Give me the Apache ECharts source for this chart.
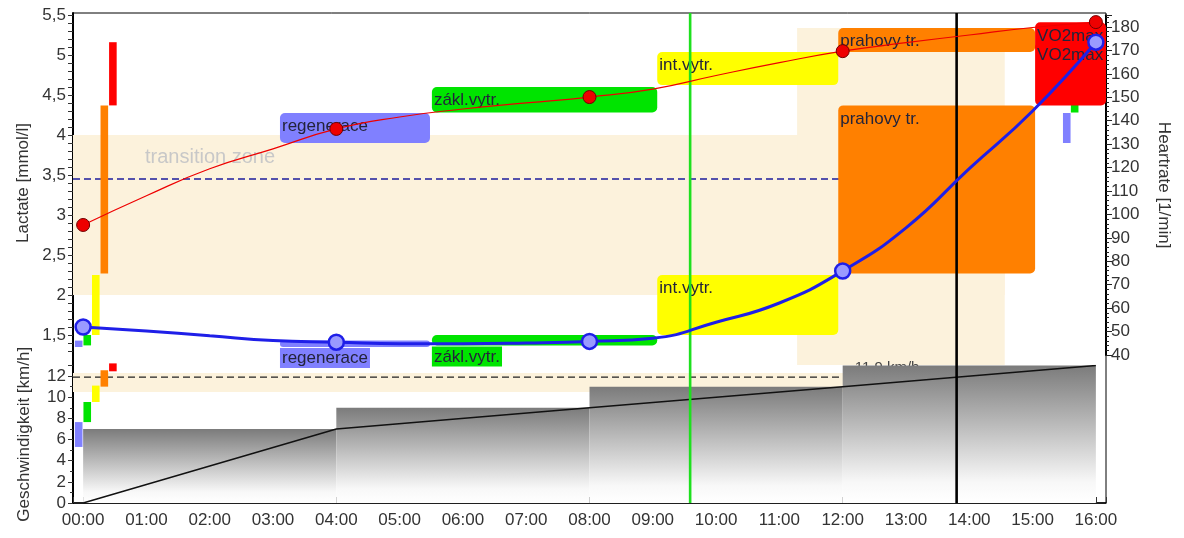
<!DOCTYPE html>
<html>
<head>
<meta charset="utf-8">
<script src="https://cdn.jsdelivr.net/npm/echarts@6/dist/echarts.min.js"></script>
<style>
html, body { margin: 0; padding: 0; background: #fff; }
#chart { width: 1184px; height: 538px; }
</style>
</head>
<body>
<div id="chart"></div>
<script>
// measured stages
var stageTimes = [0, 4, 8, 12, 16];
var hrMeasured = [95.5, 136.5, 150.1, 169.7, 182.1];
var lactateMeasured = [1.6, 1.41, 1.42, 2.3, 5.16];
var stageSpeeds = [7, 9, 11, 13];
var speedRamp = [0, 7, 9, 11, 13];

// fitted curves, every minute
var curveTimes = [0, 1, 2, 3, 4, 5, 6, 7, 8, 9, 10, 11, 12, 13, 14, 15, 16];
var hrCurve = [95.5, 108, 119.5, 128, 136.5, 141.6, 145, 147.6, 150.1, 153.5, 159.3, 164.8, 169.7, 173.3, 176.6, 179.8, 182.1];
var lactateCurve = [1.6, 1.55, 1.49, 1.43, 1.41, 1.39, 1.39, 1.4, 1.42, 1.46, 1.66, 1.9, 2.3, 2.84, 3.58, 4.3, 5.16];

// training zones
var zoneNames = ['regenerace', 'zákl.vytr.', 'int.vytr.', 'prahovy tr.', 'VO2max'];
var zoneColors = ['#8080ff', '#00e400', '#ffff00', '#ff8000', '#ff0000'];
var zoneStart = [3.11, 5.51, 9.07, 11.93, 15.04];
var zoneEnd = [5.48, 9.07, 11.93, 15.04, 16.3];
var hrZoneLow = [130.5, 143.5, 155.2, 169.3, 169.3];
var hrZoneHigh = [143.3, 154.4, 169.3, 179.6, 182];
var lactateZoneLow = [1.35, 1.37, 1.5, 2.27, 4.37];
var lactateZoneHigh = [1.43, 1.5, 2.25, 4.37, 5.16];
var speedZoneLow = [5.3, 7.65, 9.55, 11.0, 12.45];
var speedZoneHigh = [7.65, 9.55, 11.1, 12.55, 13.2];

// transition zone and thresholds
var transitionLactate = [2, 4];
var transitionSpeed = [10.5, 12.3];
var transitionTime = [11.28, 14.56];
var transitionHr = [35.7, 179.6];
var lactateThreshold = 3.45;
var speedThreshold = 11.9;
var speedThresholdLabel = '11,9 km/h';
var thresholdTime = 13.8;
var markerTime = 9.59;

var X_MIN = -0.16, X_MAX = 16.16;
var FONT = '"Liberation Sans", Arial, sans-serif';
var BEIGE = '#fcf2dc';

var chart = echarts.init(document.getElementById('chart'));

function zip(a, b) {
    return a.map(function (v, i) { return [v, b[i]]; });
}

function spanX(cs, a, b) {
    var x0 = Math.max(a, cs.x), x1 = Math.min(b, cs.x + cs.width);
    return [x0, Math.max(0, x1 - x0)];
}

function bandItem(params, api) {
    var cs = params.coordSys;
    var a = api.coord([api.value(0), api.value(3)]);
    var b = api.coord([api.value(1), api.value(2)]);
    var sx = spanX(cs, a[0], b[0]);
    var children = [{
        type: 'rect',
        shape: { x: sx[0], y: a[1], width: sx[1], height: b[1] - a[1] },
        style: { fill: BEIGE }
    }];
    if (api.value(4) === 1) {
        children.push({
            type: 'text', x: sx[0] + 72, y: a[1] + 12,
            style: { text: 'transition zone', font: '20px ' + FONT, fill: '#c8c8c8', align: 'left', verticalAlign: 'top' }
        });
    }
    return { type: 'group', children: children };
}

function barItem(params, api) {
    var a = api.coord([api.value(0), api.value(3)]);
    var b = api.coord([api.value(1), api.value(2)]);
    return {
        type: 'rect',
        shape: { x: a[0], y: a[1], width: b[0] - a[0], height: b[1] - a[1] },
        style: { fill: zoneColors[api.value(4)] }
    };
}

function boxItem(params, api) {
    var cs = params.coordSys;
    var i = api.value(4);
    var a = api.coord([api.value(0), api.value(3)]);
    var b = api.coord([api.value(1), api.value(2)]);
    var sx = spanX(cs, a[0], b[0]);
    var h = b[1] - a[1];
    var children = [{
        type: 'rect',
        shape: { x: sx[0], y: a[1], width: sx[1], height: h, r: 5 },
        style: { fill: zoneColors[i] }
    }];
    if (h >= 18) {
        children.push({
            type: 'text', x: sx[0] + 2, y: a[1] + 5,
            style: { text: zoneNames[i], font: '17px ' + FONT, fill: '#23233a', align: 'left', verticalAlign: 'top' }
        });
    } else {
        children.push({
            type: 'text', x: sx[0], y: b[1] + 1,
            style: { text: zoneNames[i], font: '17px ' + FONT, fill: '#23233a', align: 'left', verticalAlign: 'top',
                     backgroundColor: zoneColors[i], padding: [2, 2, 1, 2] }
        });
    }
    return { type: 'group', children: children };
}

function stepItem(params, api) {
    var a = api.coord([api.value(0), api.value(2)]);
    var b = api.coord([api.value(1), 0]);
    return {
        type: 'rect',
        shape: { x: a[0], y: a[1], width: b[0] - a[0], height: b[1] - a[1] },
        style: {
            fill: new echarts.graphic.LinearGradient(0, 0, 0, 1, [
                { offset: 0, color: '#7b7b7b' },
                { offset: 0.85, color: '#f8f8f8' },
                { offset: 1, color: '#ffffff' }
            ])
        }
    };
}

function dashedItem(color, label) {
    return function (params, api) {
        var a = api.coord([api.value(0), api.value(2)]);
        var b = api.coord([api.value(1), api.value(2)]);
        var children = [{
            type: 'line',
            shape: { x1: a[0], y1: a[1], x2: b[0], y2: b[1] },
            style: { stroke: color, lineWidth: 1.3, lineDash: [7, 4] }
        }];
        if (label) {
            var c = api.coord([stageTimes[3], api.value(2)]);
            children.push({
                type: 'text', x: c[0] + 12, y: c[1] - 2,
                style: { text: label, font: '15px ' + FONT, fill: '#444', align: 'left', verticalAlign: 'bottom' }
            });
        }
        return { type: 'group', children: children };
    };
}

var verticalColors = ['#1ee01e', '#000000'];
function verticalItem(params, api) {
    var a = api.coord([api.value(0), 0]);
    var b = api.coord([api.value(0), 1]);
    return {
        type: 'line',
        shape: { x1: a[0], y1: a[1], x2: b[0], y2: b[1] },
        style: { stroke: verticalColors[params.dataIndex], lineWidth: 2.6 }
    };
}

function zoneRows(low, high) {
    return zoneNames.map(function (n, i) { return [zoneStart[i], zoneEnd[i], low[i], high[i], i]; });
}
function barRows(low, high, t0, step, count) {
    var rows = [];
    for (var i = 0; i < count; i++) {
        rows.push([t0 + i * step, t0 + i * step + 0.12, low[i], high[i], i]);
    }
    return rows;
}
var stepRows = stageSpeeds.map(function (s, i) { return [stageTimes[i], stageTimes[i + 1], s]; });

function timeLabel(v) {
    if (Math.abs(v - Math.round(v)) > 1e-6) return '';
    var m = Math.round(v);
    return (m < 10 ? '0' : '') + m + ':00';
}
function lactateLabel(v) {
    if (Math.abs(v * 2 - Math.round(v * 2)) > 1e-6 || v < 1.45) return '';
    return String(Math.round(v * 2) / 2).replace('.', ',');
}

var axisTextStyle = { color: '#333', fontSize: 17, fontFamily: FONT };
var nameStyle = { color: '#333', fontSize: 17, fontFamily: FONT };
var blackLine = { show: true, onZero: false, lineStyle: { color: '#000', width: 2 } };

function hiddenX(g) {
    return { gridIndex: g, type: 'value', min: X_MIN, max: X_MAX, show: false };
}

var option = {
    animation: false,
    backgroundColor: '#fff',
    grid: [
        { left: 73, right: 78, top: 13, bottom: 35, show: true, borderColor: '#000', borderWidth: 1, backgroundColor: 'transparent' },
        { left: 73, right: 78, top: 15, bottom: 187 },
        { left: 73, right: 78, top: 15.3, bottom: 183 },
        { left: 73, right: 78, top: 365.5, bottom: 35 }
    ],
    xAxis: [
        {
            gridIndex: 0, type: 'value', min: X_MIN, max: X_MAX, splitNumber: 16,
            axisLine: { show: true, onZero: false, lineStyle: { color: '#000', width: 1.5 } },
            axisTick: { show: true, inside: true, length: 6, lineStyle: { color: '#333' } },
            minorTick: { show: true, splitNumber: 4, length: 3, lineStyle: { color: '#555' } },
            axisLabel: Object.assign({ formatter: timeLabel, margin: 9, showMinLabel: false, showMaxLabel: false }, axisTextStyle),
            splitLine: { show: false }
        },
        hiddenX(1), hiddenX(2), hiddenX(3)
    ],
    yAxis: [
        {
            gridIndex: 0, type: 'value', min: 0, max: 1, position: 'left',
            axisLine: blackLine, axisTick: { show: false }, axisLabel: { show: false }, splitLine: { show: false }
        },
        {
            gridIndex: 1, type: 'value', min: 1.3, max: 5.5, interval: 0.1, position: 'left',
            axisLine: blackLine,
            axisTick: { show: true, length: 5, lineStyle: { color: '#333' } },
            axisLabel: Object.assign({ formatter: lactateLabel, margin: 7 }, axisTextStyle),
            splitLine: { show: false },
            name: 'Lactate [mmol/l]', nameLocation: 'middle', nameGap: 40, nameTextStyle: nameStyle
        },
        {
            gridIndex: 2, type: 'value', min: 40, max: 185, interval: 10, position: 'right',
            axisLine: blackLine,
            axisTick: { show: true, length: 6, lineStyle: { color: '#222' } },
            minorTick: { show: true, splitNumber: 5, length: 3, lineStyle: { color: '#222' } },
            axisLabel: Object.assign({ formatter: function (v) { return v > 180 ? '' : String(v); }, margin: 5 }, axisTextStyle),
            splitLine: { show: false },
            name: 'Heartrate [1/min]', nameLocation: 'middle', nameRotate: -90, nameGap: 49, nameTextStyle: nameStyle
        },
        {
            gridIndex: 3, type: 'value', min: 0, max: 13, interval: 2, position: 'left',
            axisLine: blackLine,
            axisTick: { show: true, length: 5, lineStyle: { color: '#333' } },
            minorTick: { show: true, splitNumber: 2, length: 3, lineStyle: { color: '#333' } },
            axisLabel: Object.assign({ formatter: function (v) { return v > 12 ? '' : String(v); }, margin: 7 }, axisTextStyle),
            splitLine: { show: false },
            name: 'Geschwindigkeit [km/h]', nameLocation: 'middle', nameGap: 40, nameTextStyle: nameStyle
        }
    ],
    series: [
        // transition zone
        { type: 'custom', xAxisIndex: 1, yAxisIndex: 1, z: 1, renderItem: bandItem,
          data: [[X_MIN, transitionTime[1], transitionLactate[0], transitionLactate[1], 1]] },
        { type: 'custom', xAxisIndex: 2, yAxisIndex: 2, z: 1, renderItem: bandItem,
          data: [[transitionTime[0], transitionTime[1], transitionHr[0], transitionHr[1], 0]] },
        { type: 'custom', xAxisIndex: 3, yAxisIndex: 3, z: 1, renderItem: bandItem,
          data: [[X_MIN, transitionTime[1], transitionSpeed[0], transitionSpeed[1], 0]] },
        // thresholds
        { type: 'custom', xAxisIndex: 1, yAxisIndex: 1, z: 2, renderItem: dashedItem('#1c1c9c'),
          data: [[X_MIN, thresholdTime, lactateThreshold]] },
        { type: 'custom', xAxisIndex: 3, yAxisIndex: 3, z: 2, renderItem: dashedItem('#222', speedThresholdLabel),
          data: [[X_MIN, thresholdTime, speedThreshold]] },
        // speed stages
        { type: 'custom', xAxisIndex: 3, yAxisIndex: 3, z: 3, renderItem: stepItem, data: stepRows },
        { type: 'line', xAxisIndex: 3, yAxisIndex: 3, z: 4, data: zip(stageTimes, speedRamp),
          showSymbol: false, lineStyle: { color: '#111', width: 1.5 } },
        // zone range bars
        { type: 'custom', xAxisIndex: 1, yAxisIndex: 1, z: 3, renderItem: barItem,
          data: barRows(lactateZoneLow, lactateZoneHigh, -0.13, 0.135, 5) },
        { type: 'custom', xAxisIndex: 3, yAxisIndex: 3, z: 3, renderItem: barItem,
          data: barRows(speedZoneLow, speedZoneHigh, -0.13, 0.135, 5) },
        { type: 'custom', xAxisIndex: 2, yAxisIndex: 2, z: 3, renderItem: barItem,
          data: barRows(hrZoneLow, hrZoneHigh, 15.48, 0.125, 5) },
        // zone boxes
        { type: 'custom', xAxisIndex: 2, yAxisIndex: 2, z: 4, renderItem: boxItem, data: zoneRows(hrZoneLow, hrZoneHigh) },
        { type: 'custom', xAxisIndex: 1, yAxisIndex: 1, z: 5, renderItem: boxItem, data: zoneRows(lactateZoneLow, lactateZoneHigh) },
        // vertical markers
        { type: 'custom', xAxisIndex: 0, yAxisIndex: 0, z: 6, renderItem: verticalItem,
          data: [[markerTime], [thresholdTime]] },
        // heart rate
        { type: 'line', xAxisIndex: 2, yAxisIndex: 2, z: 7, data: zip(curveTimes, hrCurve), smooth: true,
          showSymbol: false, lineStyle: { color: '#ee0000', width: 1.2 } },
        { type: 'scatter', xAxisIndex: 2, yAxisIndex: 2, z: 8, data: zip(stageTimes, hrMeasured), symbolSize: 13,
          itemStyle: { color: '#ee0000', borderColor: '#700000', borderWidth: 1, opacity: 1 } },
        // lactate
        { type: 'line', xAxisIndex: 1, yAxisIndex: 1, z: 7, data: zip(curveTimes, lactateCurve), smooth: true,
          showSymbol: false, lineStyle: { color: '#1f1fe8', width: 3 } },
        { type: 'scatter', xAxisIndex: 1, yAxisIndex: 1, z: 8, data: zip(stageTimes, lactateMeasured), symbolSize: 15,
          itemStyle: { color: '#9a9aff', borderColor: '#1f1fe8', borderWidth: 2.5, opacity: 1 } }
    ]
};

chart.setOption(option);
</script>
</body>
</html>
